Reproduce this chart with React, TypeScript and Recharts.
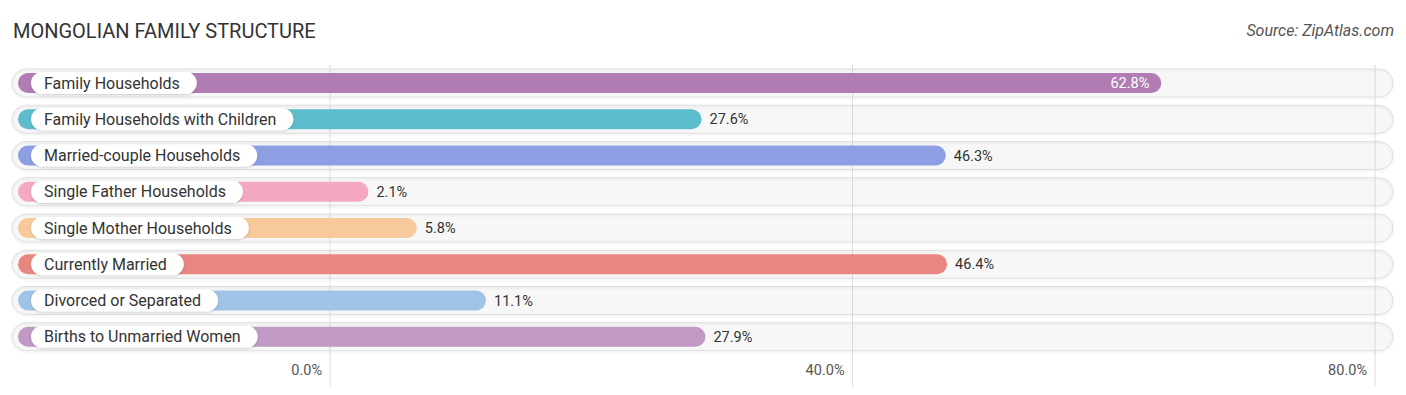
import { BarChart, Bar, XAxis, YAxis, CartesianGrid } from 'recharts'

const categories = [
  'Family Households',
  'Family Households with Children',
  'Married-couple Households',
  'Single Father Households',
  'Single Mother Households',
  'Currently Married',
  'Divorced or Separated',
  'Births to Unmarried Women',
]
const values = [62.8, 27.6, 46.3, 2.1, 5.8, 46.4, 11.1, 27.9]
const colors = ['#b07cb3', '#5cbccb', '#8e9ee2', '#f5a8c3', '#f8c99a', '#e8877f', '#9fc4e8', '#c09ac4']
const tickValues = [0, 40, 80]

const data = categories.map((name, i) => ({ name, value: values[i], color: colors[i] }))

const LABEL_FONT = '16px Roboto'

let ctx: CanvasRenderingContext2D | null = null
function textWidth(text: string, font: string) {
  if (!ctx) ctx = document.createElement('canvas').getContext('2d')
  if (!ctx) return text.length * 8
  ctx.font = font
  return ctx.measureText(text).width
}

function Track(props: any) {
  const { x, y, width, height } = props
  const cy = y + height / 2
  const left = 12
  const right = x + width + 18
  return (
    <rect
      x={left}
      y={cy - 14}
      width={right - left}
      height={28}
      rx={14}
      fill="rgba(0,0,0,0.028)"
      stroke="#dedede"
      strokeWidth={1}
      filter="url(#trackShadow)"
    />
  )
}

function BarShape(props: any) {
  const { x, y, width, height, payload, index } = props
  const cy = y + height / 2
  const left = 18
  const end = x + width + 11
  const pillW = textWidth(payload.name, LABEL_FONT) + 30
  const inside = payload.value > 50
  return (
    <g>
      {index === 0 && (
        <defs>
          <filter id="pillShadow" x="-10%" y="-30%" width="120%" height="160%">
            <feDropShadow dx="0" dy="1" stdDeviation="1" floodColor="#000" floodOpacity="0.18" />
          </filter>
          <filter id="trackShadow" x="-5%" y="-30%" width="110%" height="160%">
            <feDropShadow dx="0" dy="1" stdDeviation="1" floodColor="#000" floodOpacity="0.1" />
          </filter>
        </defs>
      )}
      <rect x={left} y={cy - 10} width={end - left} height={20} rx={10} fill={payload.color} />
      <rect x={31} y={cy - 11} width={pillW} height={22} rx={11} fill="#fff" filter="url(#pillShadow)" />
      <text x={44} y={cy} dy="0.35em" fontFamily="Roboto" fontSize={16} fill="#333">
        {payload.name}
      </text>
      <text
        x={inside ? end - 12 : end + 8}
        y={cy}
        dy="0.35em"
        textAnchor={inside ? 'end' : 'start'}
        fontFamily="Roboto"
        fontSize={14.5}
        fill={inside ? '#fff' : '#333'}
      >
        {payload.value.toFixed(1)}%
      </text>
    </g>
  )
}

function Tick(props: any) {
  const { x, y, payload } = props
  return (
    <g>
      <line x1={x} x2={x} y1={y - 12} y2={y + 24} stroke="#dddddd" />
      <text x={x - 8} y={y} dy="0.8em" textAnchor="end" fontFamily="Roboto" fontSize={14.5} fill="#555">
        {payload.value.toFixed(1)}%
      </text>
    </g>
  )
}

export default function App() {
  return (
    <div style={{ position: 'absolute', left: 0, top: 0, width: 1406, height: 395, background: '#fff' }}>
      <div
        style={{
          position: 'absolute',
          left: 13,
          top: 19,
          fontFamily: 'Roboto',
          fontSize: 20,
          color: '#333',
        }}
      >
        MONGOLIAN FAMILY STRUCTURE
      </div>
      <div
        style={{
          position: 'absolute',
          right: 12,
          top: 21,
          fontFamily: 'Roboto',
          fontStyle: 'italic',
          fontSize: 16,
          color: '#555',
        }}
      >
        Source: ZipAtlas.com
      </div>
      <BarChart
        layout="vertical"
        width={1406}
        height={395}
        data={data}
        margin={{ top: 65, right: 31, bottom: 0, left: 330 }}
        barSize={20}
      >
        <CartesianGrid horizontal={false} stroke="#dddddd" />
        <XAxis
          type="number"
          domain={[0, 80]}
          ticks={tickValues}
          height={40}
          axisLine={false}
          tickLine={false}
          tick={<Tick />}
          interval={0}
        />
        <YAxis type="category" dataKey="name" hide />
        <Bar dataKey="value" isAnimationActive={false} background={<Track />} shape={<BarShape />} />
      </BarChart>
    </div>
  )
}
